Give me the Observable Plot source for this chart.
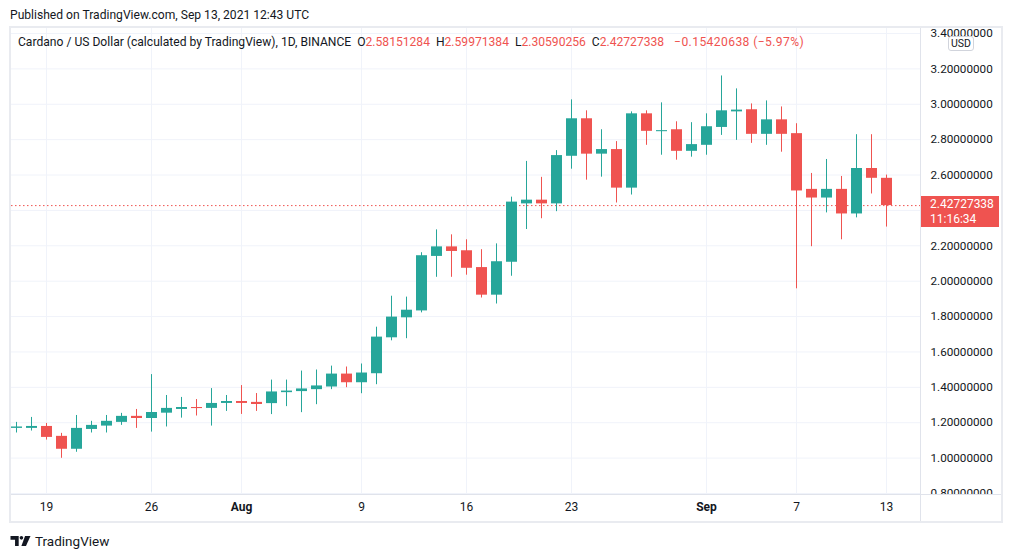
<!DOCTYPE html>
<html><head><meta charset="utf-8">
<script src="https://cdn.jsdelivr.net/npm/d3@7"></script>
<script src="https://cdn.jsdelivr.net/npm/@observablehq/plot@0.6"></script>
<style>
html,body{margin:0;padding:0;background:#fff;}
body{width:1012px;height:558px;overflow:hidden;position:relative;font-family:Roboto,"Liberation Sans",sans-serif;color:#131722;}
.abs{position:absolute;}
#pub{left:10px;top:6px;font-size:12.1px;line-height:18px;white-space:nowrap;}
#legend{left:18px;top:34px;font-size:12.1px;line-height:16px;white-space:nowrap;}
#legend .v{color:#ef5350;}
#legend .chg{color:#ef5350;letter-spacing:0.4px;margin-left:4px;}
#frame{left:9px;top:26px;width:994px;height:497px;box-sizing:border-box;border:2px solid #e9ebf0;pointer-events:none;}
#vsep{left:920px;top:28px;width:1px;height:493px;background:#e0e3eb;}
#hsep{left:11px;top:494px;width:990px;height:1px;background:#e0e3eb;}
#corner{left:921px;top:495px;width:80px;height:26px;background:#fff;}
#usd{left:948px;top:36px;width:26px;height:15px;box-sizing:border-box;border:1px solid #d1d4dc;border-radius:3px;background:#fff;font-size:10.5px;line-height:13px;text-align:center;}
#plabel{left:921px;width:78px;height:31px;background:#ef5350;color:#fff;font-size:12px;line-height:15px;padding:1px 0 0 9px;box-sizing:border-box;}
#brand{left:10px;top:532px;font-size:13.5px;line-height:18px;white-space:nowrap;display:flex;align-items:center;gap:4px;}
</style>
</head><body>
<div id="pub" class="abs">Published on TradingView.com, Sep 13, 2021 12:43 UTC</div>
<script>
const dates = ["2021-07-17","2021-07-18","2021-07-19","2021-07-20","2021-07-21","2021-07-22","2021-07-23","2021-07-24","2021-07-25","2021-07-26",
"2021-07-27","2021-07-28","2021-07-29","2021-07-30","2021-07-31","2021-08-01","2021-08-02","2021-08-03","2021-08-04","2021-08-05",
"2021-08-06","2021-08-07","2021-08-08","2021-08-09","2021-08-10","2021-08-11","2021-08-12","2021-08-13","2021-08-14","2021-08-15",
"2021-08-16","2021-08-17","2021-08-18","2021-08-19","2021-08-20","2021-08-21","2021-08-22","2021-08-23","2021-08-24","2021-08-25",
"2021-08-26","2021-08-27","2021-08-28","2021-08-29","2021-08-30","2021-08-31","2021-09-01","2021-09-02","2021-09-03","2021-09-04",
"2021-09-05","2021-09-06","2021-09-07","2021-09-08","2021-09-09","2021-09-10","2021-09-11","2021-09-12","2021-09-13"];
const open = [1.168,1.168,1.179,1.123,1.050,1.162,1.181,1.202,1.236,1.224,
1.254,1.275,1.286,1.281,1.309,1.320,1.315,1.308,1.370,1.376,
1.387,1.402,1.475,1.426,1.477,1.680,1.793,1.832,2.140,2.194,
2.172,2.077,1.921,2.107,2.437,2.458,2.437,2.706,2.918,2.718,
2.744,2.526,2.946,2.845,2.856,2.734,2.768,2.869,2.957,2.969,
2.830,2.912,2.834,2.519,2.470,2.519,2.380,2.637,2.58151284];
const high = [1.202,1.230,1.196,1.140,1.241,1.208,1.241,1.253,1.275,1.472,
1.354,1.343,1.331,1.393,1.354,1.410,1.365,1.441,1.441,1.492,
1.498,1.520,1.515,1.532,1.740,1.915,1.910,2.161,2.290,2.262,
2.234,2.178,2.211,2.475,2.677,2.587,2.738,3.025,2.963,2.856,
2.789,2.957,2.963,3.008,2.901,2.896,2.946,3.160,3.087,3.002,
3.019,2.985,2.890,2.609,2.688,2.592,2.828,2.828,2.59971384];
const low = [1.142,1.153,1.102,0.999,1.033,1.142,1.142,1.185,1.168,1.147,
1.176,1.226,1.238,1.181,1.264,1.247,1.264,1.246,1.291,1.257,
1.302,1.387,1.398,1.364,1.415,1.663,1.675,1.821,2.022,2.022,
2.034,1.905,1.871,2.028,2.292,2.353,2.393,2.633,2.571,2.588,
2.442,2.487,2.768,2.712,2.684,2.701,2.712,2.824,2.796,2.779,
2.768,2.729,1.957,2.195,2.386,2.234,2.358,2.493,2.30590256];
const close = [1.176,1.179,1.117,1.050,1.168,1.185,1.208,1.236,1.224,1.258,
1.281,1.286,1.280,1.309,1.320,1.309,1.303,1.374,1.379,1.391,
1.408,1.475,1.426,1.481,1.684,1.797,1.836,2.144,2.194,2.168,
2.073,1.921,2.110,2.447,2.458,2.437,2.710,2.918,2.718,2.744,
2.526,2.946,2.847,2.851,2.734,2.772,2.873,2.963,2.967,2.830,
2.912,2.830,2.510,2.470,2.519,2.380,2.637,2.5815,2.42727338];
const priceTicks = [0.8,1.0,1.2,1.4,1.6,1.8,2.0,2.2,2.4,2.6,2.8,3.0,3.2,3.4];
const hiddenPriceLabels = [2.4];
const tickDates = ["2021-07-19","2021-07-26","2021-08-01","2021-08-09","2021-08-16","2021-08-23","2021-09-01","2021-09-07","2021-09-13"];
const tickLabels = ["19","26","Aug","9","16","23","Sep","7","13"];
const monthLabels = ["Aug","Sep"];
const symbolTitle = "Cardano / US Dollar (calculated by TradingView), 1D, BINANCE";
const ohlcText = ["2.58151284","2.59971384","2.30590256","2.42727338"];
const changeText = "−0.15420638 (−5.97%)";
const countdown = "11:16:34";

const up = "#26a69a", down = "#ef5350";
const candles = dates.map((d, i) => ({date: new Date(d), open: open[i], high: high[i], low: low[i], close: close[i]}));
const col = d => d.close >= d.open ? up : down;
const ticks = tickDates.map((d, i) => ({date: new Date(d), label: tickLabels[i]}));
const isMonth = t => monthLabels.includes(t.label);
const last = candles[candles.length - 1];

const chart = Plot.plot({
  width: 990, height: 493,
  marginLeft: 0, marginRight: 81, marginTop: 0, marginBottom: 27,
  x: {type: "utc", domain: [candles[0].date, last.date], range: [5, 875], axis: null},
  y: {domain: [0.8, 3.4], range: [465, 5], axis: null},
  color: {type: "identity"},
  style: {fontFamily: "Roboto, 'Liberation Sans', sans-serif", fontSize: "12px", color: "#131722", background: "transparent", overflow: "visible"},
  marks: [
    Plot.gridY(priceTicks, {stroke: "#f0f3fa", strokeOpacity: 1}),
    Plot.gridX(ticks.map(t => t.date), {stroke: "#f0f3fa", strokeOpacity: 1}),
    Plot.ruleY([last.close], {stroke: down, strokeDasharray: "1.5,2.5"}),
    Plot.ruleX(candles, {x: "date", y1: "low", y2: "high", stroke: col}),
    Plot.ruleX(candles, {x: "date", y1: "open", y2: "close", stroke: col, strokeWidth: 11}),
    Plot.axisY(priceTicks.filter(v => !hiddenPriceLabels.includes(v)), {anchor: "right", tickSize: 0, tickPadding: 10, tickFormat: d3.format(".8f"), label: null, fill: "#131722", fontSize: 11.7}),
    Plot.text(ticks.filter(t => !isMonth(t)), {x: "date", text: "label", frameAnchor: "bottom", dy: 16, fill: "#131722"}),
    Plot.text(ticks.filter(isMonth), {x: "date", text: "label", frameAnchor: "bottom", dy: 16, fill: "#131722", fontWeight: "bold"})
  ]
});
chart.style.position = "absolute";
chart.style.left = "11px";
chart.style.top = "28px";
document.body.appendChild(chart);

function add(id, html) {
  const el = document.createElement("div");
  el.id = id; el.className = "abs";
  if (html != null) el.innerHTML = html;
  document.body.appendChild(el);
  return el;
}
const sp = "&nbsp;&nbsp;";
add("legend", `<span>${symbolTitle}</span>${sp}` +
  ["O","H","L","C"].map((k, i) => `<span>${k}</span><span class="v">${ohlcText[i]}</span>`).join(sp) +
  `${sp}<span class="chg">${changeText}</span>`);
add("corner");
add("vsep");
add("hsep");
add("usd", "USD");
const py = chart.scale("y").apply(last.close) + 28;
const pl = add("plabel", `${d3.format(".8f")(last.close)}<br>${countdown}`);
pl.style.top = (py - 9) + "px";
add("frame");
add("brand", `<svg width="21" height="10" viewBox="0 0 22 11"><path d="M0 0H9V11H5V4H0Z" fill="#131722"/><circle cx="12" cy="2" r="2" fill="#131722"/><path d="M16 0H22L17 11H12Z" fill="#131722"/></svg><span>TradingView</span>`);
</script>
</body></html>
